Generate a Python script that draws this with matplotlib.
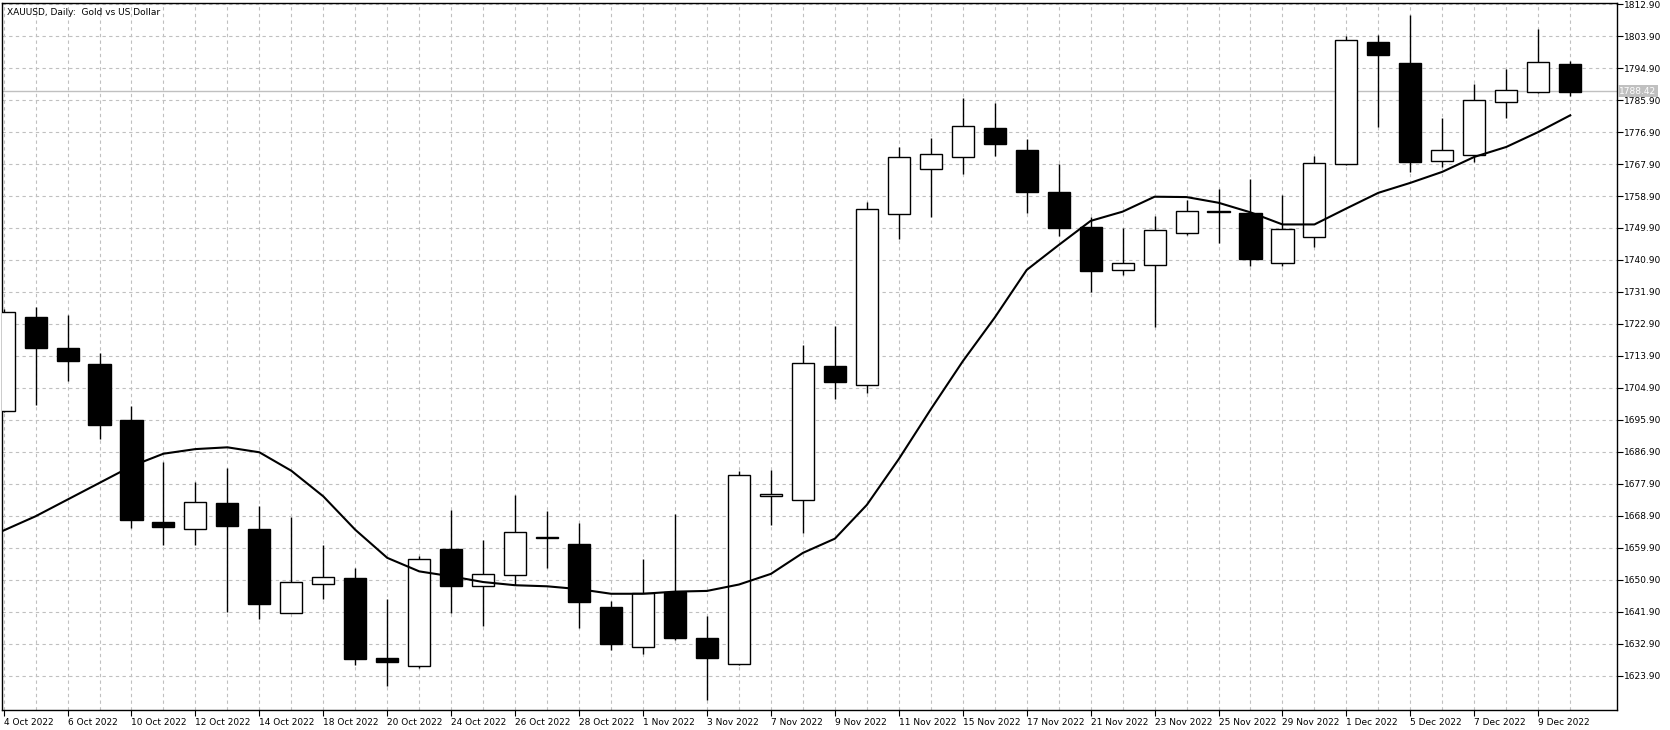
import numpy as np
import matplotlib
matplotlib.use("Agg")
import matplotlib.pyplot as plt

# daily XAUUSD bars, 4 Oct 2022 .. 12 Dec 2022
opens = [1698.4, 1725.0, 1716.0, 1711.7, 1695.8, 1667.2, 1665.2, 1672.6, 1665.1, 1641.6,
         1649.7, 1651.3, 1628.8, 1626.6, 1659.7, 1649.3, 1652.2, 1663.0, 1660.9, 1643.2,
         1632.1, 1647.6, 1634.6, 1627.3, 1674.5, 1673.5, 1711.1, 1705.6, 1753.9, 1766.4,
         1770.0, 1777.9, 1771.8, 1760.0, 1750.2, 1738.0, 1739.6, 1748.4, 1754.5, 1754.1,
         1740.0, 1747.5, 1768.0, 1802.2, 1796.4, 1768.7, 1770.3, 1785.3, 1788.2, 1795.9]
highs = [1727.0, 1727.8, 1725.5, 1714.7, 1699.8, 1684.0, 1678.4, 1682.5, 1671.6, 1668.5,
         1660.8, 1654.3, 1645.4, 1657.7, 1670.7, 1662.2, 1674.9, 1670.4, 1666.8, 1645.1,
         1656.7, 1669.4, 1640.7, 1681.5, 1681.7, 1717.0, 1722.3, 1757.3, 1772.7, 1775.1,
         1786.4, 1785.0, 1774.8, 1767.8, 1753.0, 1749.8, 1753.2, 1757.7, 1761.0, 1763.8,
         1759.1, 1770.1, 1803.9, 1804.3, 1809.8, 1780.8, 1790.5, 1794.6, 1805.9, 1797.0]
lows = [1698.0, 1700.2, 1706.8, 1690.4, 1665.4, 1660.6, 1660.8, 1641.9, 1639.8, 1641.6,
        1645.4, 1627.0, 1621.0, 1626.0, 1641.6, 1637.9, 1649.4, 1654.2, 1637.3, 1631.1,
        1630.0, 1634.1, 1617.0, 1627.0, 1666.3, 1664.1, 1701.8, 1703.4, 1746.8, 1753.1,
        1765.1, 1770.2, 1754.0, 1747.7, 1732.0, 1736.7, 1722.0, 1748.0, 1745.8, 1739.2,
        1739.2, 1744.6, 1767.6, 1778.2, 1765.6, 1767.1, 1768.5, 1780.9, 1788.0, 1787.0]
closes = [1726.3, 1716.0, 1712.4, 1694.4, 1667.7, 1665.7, 1672.8, 1666.0, 1644.1, 1650.3,
          1651.7, 1628.7, 1627.8, 1656.8, 1649.1, 1652.7, 1664.3, 1662.8, 1644.8, 1632.9,
          1647.2, 1634.6, 1628.9, 1680.4, 1675.1, 1712.0, 1706.7, 1755.3, 1769.8, 1770.8,
          1778.5, 1773.6, 1760.1, 1749.9, 1737.7, 1740.0, 1749.3, 1754.8, 1754.4, 1741.3,
          1749.5, 1768.3, 1802.8, 1798.5, 1768.4, 1771.8, 1786.0, 1788.8, 1796.6, 1788.2]
ma = [1664.8, 1668.8, 1673.5, 1678.2, 1682.9, 1686.4, 1687.7, 1688.2, 1686.8, 1681.6,
      1674.4, 1665.0, 1657.1, 1653.3, 1651.9, 1650.3, 1649.4, 1649.1, 1648.3, 1647.0,
      1647.0, 1647.6, 1647.8, 1649.6, 1652.6, 1658.5, 1662.5, 1672.0, 1684.9, 1698.9,
      1712.4, 1724.7, 1738.1, 1745.1, 1751.9, 1754.5, 1758.7, 1758.6, 1757.0, 1754.3,
      1750.9, 1750.9, 1755.4, 1759.8, 1762.6, 1765.7, 1769.9, 1772.7, 1776.9, 1781.6]
date_labels = ["4 Oct 2022", "6 Oct 2022", "10 Oct 2022", "12 Oct 2022", "14 Oct 2022",
               "18 Oct 2022", "20 Oct 2022", "24 Oct 2022", "26 Oct 2022", "28 Oct 2022",
               "1 Nov 2022", "3 Nov 2022", "7 Nov 2022", "9 Nov 2022", "11 Nov 2022",
               "15 Nov 2022", "17 Nov 2022", "21 Nov 2022", "23 Nov 2022", "25 Nov 2022",
               "29 Nov 2022", "1 Dec 2022", "5 Dec 2022", "7 Dec 2022", "9 Dec 2022"]
price_ticks = [1623.9 + 9 * i for i in range(22)]
last_price = 1788.42

plt.rcParams.update({"font.family": "DejaVu Sans", "font.size": 6.5})

fig = plt.figure(figsize=(16.7, 7.3), dpi=100)
ax = fig.add_axes([0.0012, 0.0274, 0.967, 0.9685])

x = np.arange(len(opens))
o = np.array(opens)
c = np.array(closes)
up = c >= o
bottom = np.minimum(o, c)
height = np.maximum(np.abs(c - o), 0.25)

ax.vlines(x, lows, highs, color="black", lw=1.0, zorder=2)
ax.bar(x[up], height[up], bottom=bottom[up], width=0.69, facecolor="white",
       edgecolor="black", lw=1.0, zorder=3)
ax.bar(x[~up], height[~up], bottom=bottom[~up], width=0.69, facecolor="black",
       edgecolor="black", lw=1.0, zorder=3)
ax.plot(x, ma, color="black", lw=1.5, zorder=4)

ax.axhline(last_price, color="#c0c0c0", lw=1, zorder=1)

ax.set_xlim(-0.05, 50.46)
ax.set_ylim(1614.3, 1813.2)

ax.set_xticks(x, minor=True)
ax.set_yticks(price_ticks)
ax.grid(True, which="both", axis="x", ls=(0, (3, 3)), color="#c0c0c0", lw=0.8)
ax.grid(True, which="major", axis="y", ls=(0, (3, 3)), color="#c0c0c0", lw=0.8)
ax.set_axisbelow(True)

ax.set_xticks(np.arange(0, 49, 2))
ax.set_xticklabels(date_labels, ha="left")
ax.tick_params(axis="x", which="major", length=4, pad=2, direction="out")
ax.tick_params(axis="x", which="minor", length=0)
ax.yaxis.tick_right()
ax.set_yticklabels([f"{v:.2f}" for v in price_ticks])
ax.tick_params(axis="y", length=4, pad=1, direction="out")
for s in ax.spines.values():
    s.set_linewidth(1)

ax.text(1.0015, last_price, f"{last_price:.2f}", transform=ax.get_yaxis_transform(),
        va="center", ha="left", color="white", fontsize=6.5,
        bbox=dict(facecolor="#c0c0c0", edgecolor="none", pad=1))

ax.text(0.003, 0.993, "XAUUSD, Daily:  Gold vs US Dollar", transform=ax.transAxes,
        va="top", ha="left", fontsize=6.5)

fig.savefig("out.png", dpi=100)
